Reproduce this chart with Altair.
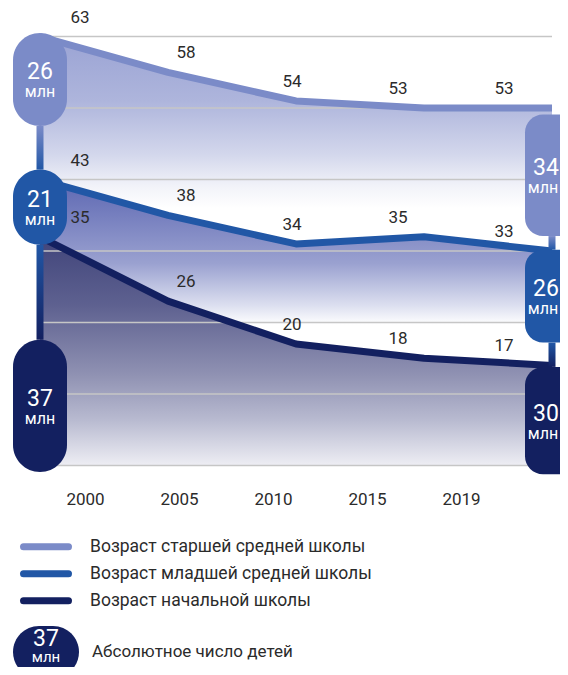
import altair as alt
import pandas as pd

# ---------------- data ----------------
years = ["2000", "2005", "2010", "2015", "2019"]
series = [
    "Возраст старшей средней школы",
    "Возраст младшей средней школы",
    "Возраст начальной школы",
]
upper_secondary = [63, 58, 54, 53, 53]
lower_secondary = [43, 38, 34, 35, 33]
primary = [35, 26, 20, 18, 17]
values = [upper_secondary, lower_secondary, primary]

# absolute number of children (millions), first and last year
abs_first = [26, 21, 37]
abs_last = [34, 26, 30]
# upper edge of each badge on the value axis
badge_top_first = [63.5, 44.4, 20.6]
badge_top_last = [52.1, 33.2, 16.8]

grid_values = [3, 13, 23, 33, 43, 53, 63]
unit = "млн"
legend_badge_value = 37
legend_badge_label = "Абсолютное число детей"

colors = ["#7b8bc8", "#2157a6", "#132060"]
FONT = "Roboto"
TXT = "#2b2b2b"

# ---------------- tables ----------------
n = len(years)
last = n - 1
lines_df = pd.DataFrame(
    [{"series": s, "i": i, "year": years[i], "value": values[k][i]}
     for k, s in enumerate(series) for i in range(n)]
)
area_df = pd.DataFrame(
    [{"series": s, "i": i, "top": values[k][i],
      "bottom": values[k + 1][i] if k + 1 < len(series) else grid_values[0]}
     for k, s in enumerate(series) for i in range(n)]
)
grid_df = pd.DataFrame({"g": grid_values, "x0": 0, "x1": last})

badges = []
for k, s in enumerate(series):
    for side, num, top in ((0, abs_first[k], badge_top_first[k]), (last, abs_last[k], badge_top_last[k])):
        bottom = top - num / 2.0
        badges.append({"series": s, "k": k, "i": side, "num": num, "top": top,
                       "bottom": bottom, "mid": (top + bottom) / 2, "unit": unit})
badge_df = pd.DataFrame(badges)

conn = []
for side in (0, last):
    b = badge_df[badge_df.i == side].sort_values("k").reset_index(drop=True)
    for k in range(len(series) - 1):
        conn.append({"i": side, "k": k, "y": b.loc[k, "bottom"], "y2": b.loc[k + 1, "top"]})
conn_df = pd.DataFrame(conn)

legend_df = pd.DataFrame({"series": series, "row": list(range(len(series)))})
legend_badge_df = pd.DataFrame({"num": [legend_badge_value], "label": [legend_badge_label], "unit": [unit]})
years_df = pd.DataFrame({"year": years})

# ---------------- scales ----------------
W, H = 552, 479
Y_DOM = [0, 67]
color_scale = alt.Scale(domain=series, range=colors)


def X_line(field="i"):
    return alt.X(f"{field}:Q", scale=alt.Scale(domain=[0, last], range=[32, 544], padding=0, nice=False),
                 axis=None)


def Y_val(field):
    return alt.Y(f"{field}:Q", scale=alt.Scale(domain=Y_DOM, padding=0, nice=False), axis=None)


def grad(stops):
    return alt.Gradient(
        gradient="linear",
        stops=[alt.GradientStop(color=c, offset=o) for o, c in stops],
        x1=0, x2=0, y1=0, y2=1,
    )


area_stops = [
    [(0, "#9aa3d4"), (0.3, "#aeb5dc"), (0.55, "#d3d7ec"), (0.7, "#f2f3f9"), (0.8, "#ffffff"), (1, "#ffffff")],
    [(0, "#5d67b2"), (0.2, "#7780bf"), (0.45, "#9aa1d0"), (0.68, "#dde0f0"), (0.78, "#ffffff"), (1, "#ffffff")],
    [(0, "#40447a"), (0.3, "#5e6190"), (0.6, "#8f91b2"), (0.8, "#b8bad0"), (1, "#eeeef4")],
]

layers = []

# gradient areas
for k, s in enumerate(series):
    layers.append(
        alt.Chart(area_df).transform_filter(alt.datum.series == s)
        .mark_area(color=grad(area_stops[k]), interpolate="linear")
        .encode(x=X_line(), y=Y_val("top"), y2="bottom")
    )

# gridlines
layers.append(
    alt.Chart(grid_df).mark_rule(color="#c6c6c6", strokeWidth=1.5)
    .encode(x=X_line("x0"), x2="x1", y=Y_val("g"))
)

# lines
layers.append(
    alt.Chart(lines_df).mark_line(strokeWidth=7, strokeJoin="round")
    .encode(x=X_line(), y=Y_val("value"),
            color=alt.Color("series:N", scale=color_scale, legend=None),
            order="i:Q")
)

# connectors between badges
for k in range(len(series) - 1):
    layers.append(
        alt.Chart(conn_df).transform_filter(alt.datum.k == k)
        .mark_bar(width=7, color=grad([(0, colors[k]), (1, colors[k + 1])]))
        .encode(x=X_line(), y=Y_val("y"), y2="y2")
    )

# badges and their numbers
for side, rad, shift_num, shift_unit in ((0, 27, 0, 0), (last, 18, -6, -9)):
    layers.append(
        alt.Chart(badge_df).transform_filter(alt.datum.i == side)
        .mark_bar(width=54, cornerRadius=rad)
        .encode(x=X_line(), y=Y_val("top"), y2="bottom",
                color=alt.Color("series:N", scale=color_scale, legend=None))
    )
    layers.append(
        alt.Chart(badge_df).transform_filter(alt.datum.i == side)
        .mark_text(font=FONT, fontSize=23, color="white", dy=-7, dx=shift_num)
        .encode(x=X_line(), y=Y_val("mid"), text="num:Q")
    )
    layers.append(
        alt.Chart(badge_df).transform_filter(alt.datum.i == side)
        .mark_text(font=FONT, fontSize=16, color="white", dy=13, dx=shift_unit)
        .encode(x=X_line(), y=Y_val("mid"), text="unit:N")
    )

# value labels
layers.append(
    alt.Chart(lines_df).mark_text(font=FONT, fontSize=17, color=TXT, dy=-19)
    .encode(x=alt.X("i:Q", scale=alt.Scale(domain=[0, last], range=[72, 496], nice=False), axis=None),
            y=Y_val("value"), text="value:Q")
)

# year axis
layers.append(
    alt.Chart(years_df).mark_point(opacity=0)
    .encode(
        x=alt.X("year:O", scale=alt.Scale(type="point", range=[77, 453], padding=0),
                axis=alt.Axis(orient="bottom", labelAngle=0, labelFont=FONT, labelFontSize=17,
                              labelColor=TXT, ticks=False, domain=False, grid=False,
                              labelPadding=4, title=None)),
        y=alt.value(0),
    )
)

# legend
row_scale = alt.Scale(domain=[0, len(series) - 1], range=[538.7, 592.7], nice=False)
layers.append(
    alt.Chart(legend_df).mark_rule(strokeWidth=7, strokeCap="round")
    .encode(x=alt.value(15.5), x2=alt.value(60.5),
            y=alt.Y("row:Q", scale=row_scale, axis=None),
            color=alt.Color("series:N", scale=color_scale, legend=None))
)
layers.append(
    alt.Chart(legend_df).mark_text(font=FONT, fontSize=17.5, color=TXT, align="left", baseline="middle")
    .encode(x=alt.value(82), y=alt.Y("row:Q", scale=row_scale, axis=None), text="series:N")
)
layers.append(
    alt.Chart(legend_badge_df).mark_rect(color=colors[2], cornerRadius=26)
    .encode(x=alt.value(5), x2=alt.value(71), y=alt.value(618), y2=alt.value(670))
)
layers.append(
    alt.Chart(legend_badge_df).mark_text(font=FONT, fontSize=23, color="white")
    .encode(x=alt.value(38), y=alt.value(631), text="num:Q")
)
layers.append(
    alt.Chart(legend_badge_df).mark_text(font=FONT, fontSize=15, color="white")
    .encode(x=alt.value(38), y=alt.value(649), text="unit:N")
)
layers.append(
    alt.Chart(legend_badge_df).mark_text(font=FONT, fontSize=17, color=TXT, align="left", baseline="middle")
    .encode(x=alt.value(84), y=alt.value(644), text="label:N")
)

chart = (
    alt.layer(*layers)
    .resolve_scale(x="independent", y="independent")
    .properties(
        width=W, height=H,
        autosize=alt.AutoSizeParams(type="none"),
        padding={"left": 0, "top": 0, "right": 0, "bottom": 180},
        background="white",
    )
    .configure_view(stroke=None)
)

chart.save("out.html", embed_options={"renderer": "svg", "actions": False})
